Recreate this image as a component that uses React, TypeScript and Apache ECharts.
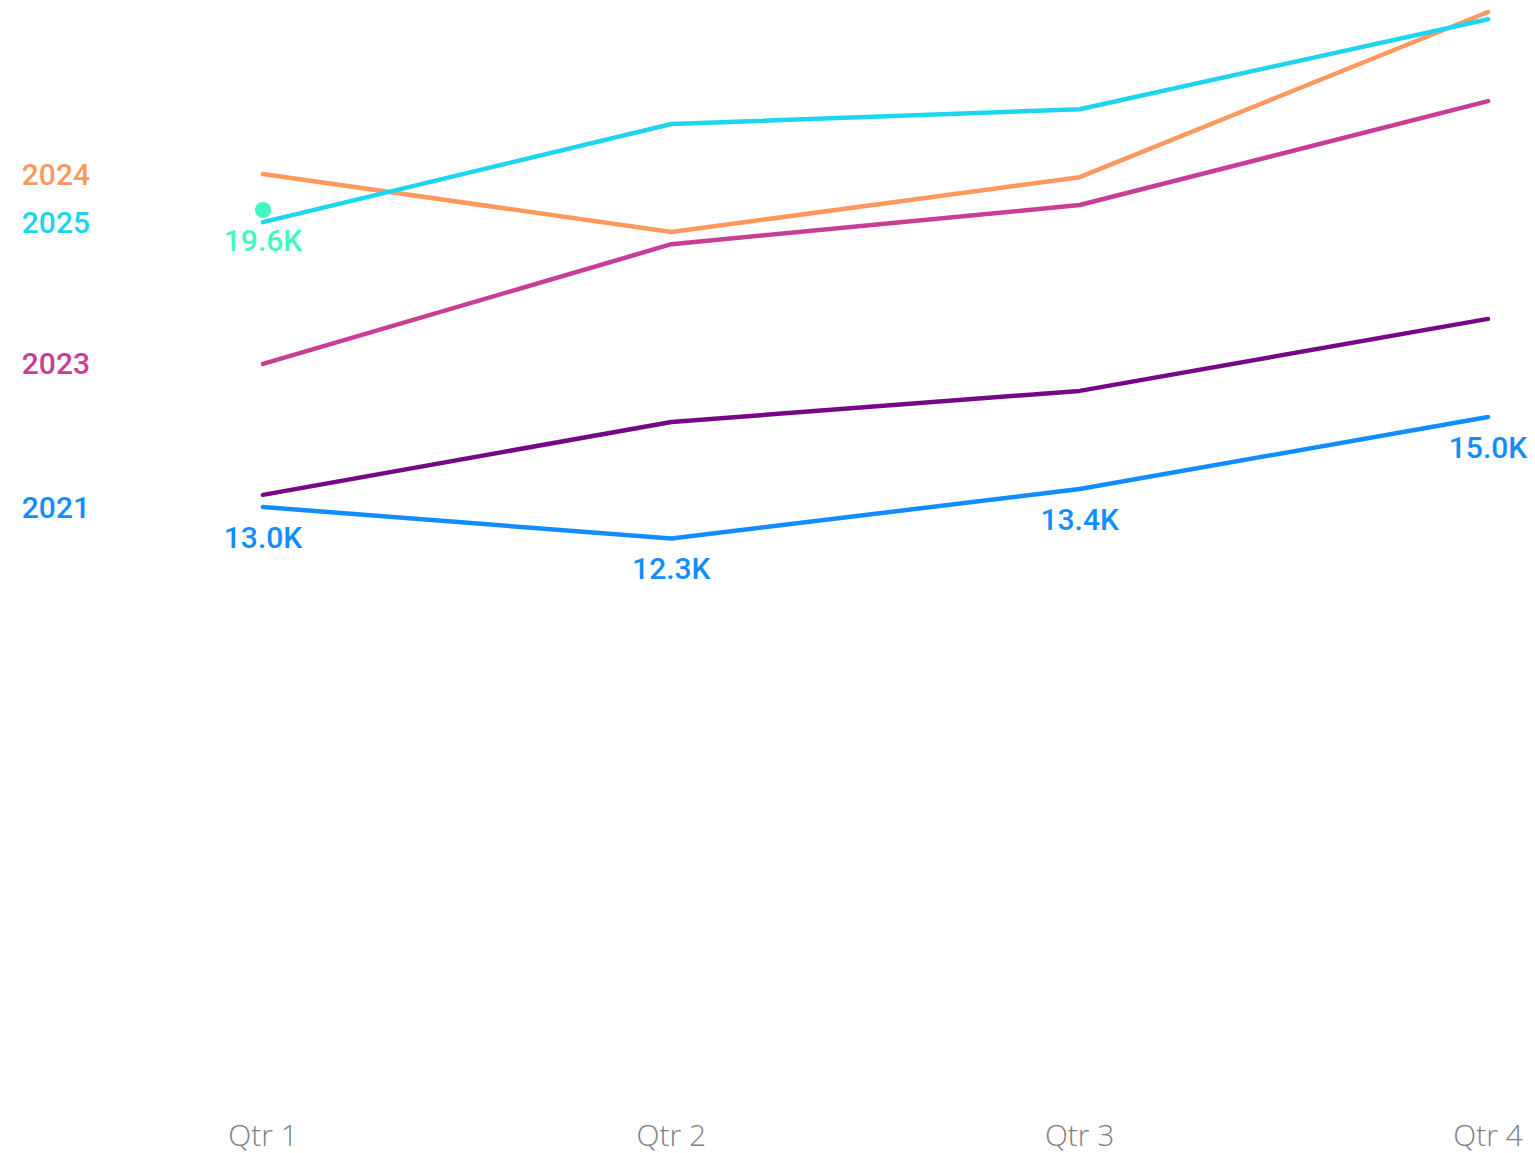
import React, { useEffect, useRef } from "react";
import * as echarts from "echarts";

const quarters = ["Qtr 1", "Qtr 2", "Qtr 3", "Qtr 4"];
const years = ["2021", "2022", "2023", "2024", "2025"];
const values2021 = [13.0, 12.3, 13.4, 15.0];
const values2022 = [13.27, 14.89, 15.58, 17.18];
const values2023 = [16.18, 18.84, 19.71, 22.02];
const values2024 = [20.4, 19.11, 20.33, 24.0];
const values2025 = [19.33, 21.51, 21.84, 23.84];
const targetValues = [19.6, null, null, null];
const yearColors = ["#118DFF", "#750985", "#C83D95", "#FF985E", "#1DD5EE"];
const targetColor = "#42F7C0";
const shownNames = ["2021", "2023", "2024", "2025"];

const labelFont = "Roboto, 'DejaVu Sans Condensed', sans-serif";

export default function App() {
  const ref = useRef<HTMLDivElement>(null);
  useEffect(() => {
    if (!ref.current) return;
    const chart = echarts.init(ref.current, undefined, { renderer: "svg" });
    const seriesValues = [values2021, values2022, values2023, values2024, values2025];
    const fmt = (p: any) => Number(p.value).toFixed(1) + "K";
    const series: any[] = years.map((y, i) => ({
      name: y,
      type: "line",
      data: seriesValues[i],
      showSymbol: i === 0,
      symbol: i === 0 ? "circle" : "none",
      symbolSize: 0.01,
      lineStyle: { width: 4.5, color: yearColors[i], cap: "round" },
      itemStyle: { color: yearColors[i] },
      z: 2 + i,
      label:
        i === 0
          ? {
              show: true,
              position: "bottom",
              distance: 15,
              formatter: fmt,
              color: yearColors[i],
              fontSize: 30,
              fontWeight: 500,
              fontFamily: labelFont,
            }
          : { show: false },
    }));
    series.push({
      name: "Target",
      type: "line",
      data: targetValues,
      symbol: "circle",
      symbolSize: 16,
      showSymbol: true,
      lineStyle: { width: 0 },
      itemStyle: { color: targetColor },
      z: 10,
      label: {
        show: true,
        position: "bottom",
        distance: 7,
        formatter: fmt,
        color: targetColor,
        fontSize: 30,
        fontWeight: 500,
        fontFamily: labelFont,
      },
    });
    chart.setOption({
      animation: false,
      grid: { left: 263, right: 47, top: 12, bottom: 61, containLabel: false },
      xAxis: {
        type: "category",
        data: quarters,
        boundaryGap: false,
        axisLine: { show: false },
        axisTick: { show: false },
        splitLine: { show: false },
        axisLabel: {
          color: "#808080",
          fontSize: 30,
          fontFamily: "'Open Sans', sans-serif",
          fontWeight: 300,
          margin: 27,
        },
      },
      yAxis: { type: "value", min: 0, max: 24, show: false, splitLine: { show: false } },
      series,
    });
    const graphic: any[] = [];
    years.forEach((y, i) => {
      if (!shownNames.includes(y)) return;
      const py = chart.convertToPixel({ yAxisIndex: 0 }, seriesValues[i][0]) as number;
      graphic.push({
        type: "text",
        x: 90,
        y: py,
        style: {
          text: y,
          fill: yearColors[i],
          font: `500 30px ${labelFont}`,
          textAlign: "right",
          textVerticalAlign: "middle",
        },
      });
    });
    chart.setOption({ graphic });
    return () => chart.dispose();
  }, []);
  return (
    <div
      ref={ref}
      style={{ position: "absolute", left: 0, top: 0, width: 1535, height: 1153 }}
    />
  );
}
